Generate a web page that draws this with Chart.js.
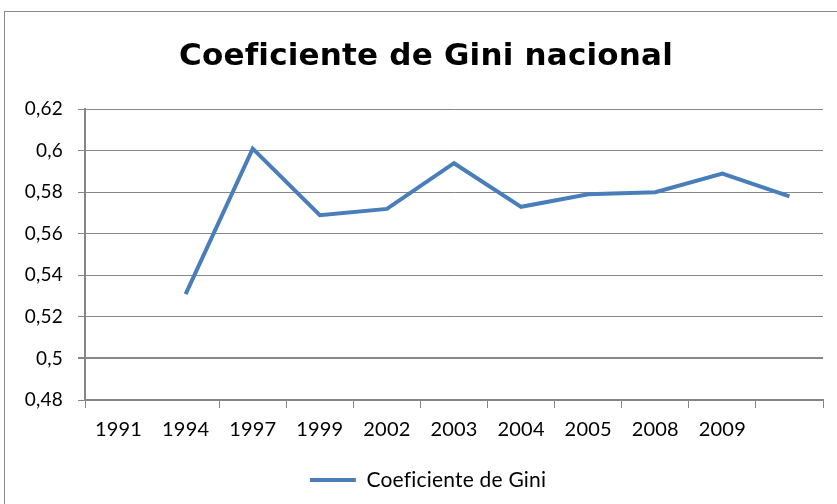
<!DOCTYPE html>
<html>
<head>
<meta charset="utf-8">
<script src="https://cdn.jsdelivr.net/npm/chart.js@4.4.1/dist/chart.umd.min.js"></script>
<style>
  html, body { margin: 0; padding: 0; background: #fff; overflow: hidden; width: 837px; height: 504px; }
  #frame { position: absolute; left: 4px; top: 11px; border-left: 1px solid #8a8a8a; border-top: 1px solid #8a8a8a; }
  #box { position: relative; width: 842px; height: 492px; }
</style>
</head>
<body>
<div id="frame"><div id="box"><canvas id="c"></canvas></div></div>
<script>
const chartTitle = 'Coeficiente de Gini nacional';
const seriesName = 'Coeficiente de Gini';
const categories = ['1991', '1994', '1997', '1999', '2002', '2003', '2004', '2005', '2008', '2009', ''];
const giniValues = [null, 0.531, 0.601, 0.569, 0.572, 0.594, 0.573, 0.579, 0.580, 0.589, 0.578];
const yMin = 0.48, yMax = 0.62, yStep = 0.02;

const fmt = v => Number(v.toFixed(2)).toString().replace('.', ',');
const gridGray = '#868686';

const noLigatures = {
  id: 'noLigatures',
  beforeDraw(chart) { chart.ctx.letterSpacing = '0.2px'; }
};

new Chart(document.getElementById('c'), {
  type: 'line',
  plugins: [noLigatures],
  data: {
    labels: categories,
    datasets: [{
      label: seriesName,
      data: giniValues,
      borderColor: '#4A7EBB',
      backgroundColor: '#4A7EBB',
      borderWidth: 4,
      pointRadius: 0,
      pointHoverRadius: 0,
      tension: 0,
      fill: false,
      yAxisID: 'y'
    }]
  },
  options: {
    responsive: true,
    maintainAspectRatio: false,
    animation: false,
    events: [],
    layout: { padding: { left: 0, right: 0, top: 0, bottom: 3.5 } },
    plugins: {
      title: {
        display: true,
        text: chartTitle,
        color: '#000',
        font: { family: 'DejaVu Sans', size: 31, weight: 'bold' },
        padding: { top: 26, bottom: 34 }
      },
      legend: {
        display: true,
        position: 'bottom',
        labels: {
          color: '#000',
          font: { family: 'Lato', size: 21 },
          usePointStyle: true,
          pointStyle: 'line',
          pointStyleWidth: 46,
          boxHeight: 21,
          padding: 10
        }
      },
      tooltip: { enabled: false }
    },
    scales: {
      x: {
        offset: true,
        grid: {
          offset: true,
          drawOnChartArea: false,
          drawTicks: true,
          tickLength: 8,
          tickColor: ctx => (ctx.index === 1 ? 'rgba(0,0,0,0)' : gridGray),
          color: gridGray,
          lineWidth: 1
        },
        border: { color: gridGray, width: 2 },
        ticks: {
          color: '#000',
          font: { family: 'Lato', size: 20 },
          padding: 10,
          autoSkip: false,
          maxRotation: 0,
          minRotation: 0
        },
        afterFit: s => { s.height = 59.5; }
      },
      y: {
        min: yMin,
        max: yMax,
        grid: {
          color: gridGray,
          lineWidth: ctx => (ctx.tick && Math.abs(ctx.tick.value - 0.5) < 1e-9 ? 2 : 1),
          drawTicks: true,
          tickLength: 7,
          tickColor: gridGray
        },
        border: { color: gridGray, width: 2 },
        ticks: {
          stepSize: yStep,
          color: '#000',
          font: { family: 'Lato', size: 19 },
          padding: 15,
          callback: v => fmt(v)
        },
        afterFit: s => { s.width = 80; }
      },
      yRightSpace: {
        position: 'right',
        display: true,
        min: yMin,
        max: yMax,
        grid: { drawOnChartArea: false, drawTicks: false },
        border: { display: false },
        ticks: { display: false },
        afterFit: s => { s.width = 24; }
      }
    }
  }
});
</script>
</body>
</html>
